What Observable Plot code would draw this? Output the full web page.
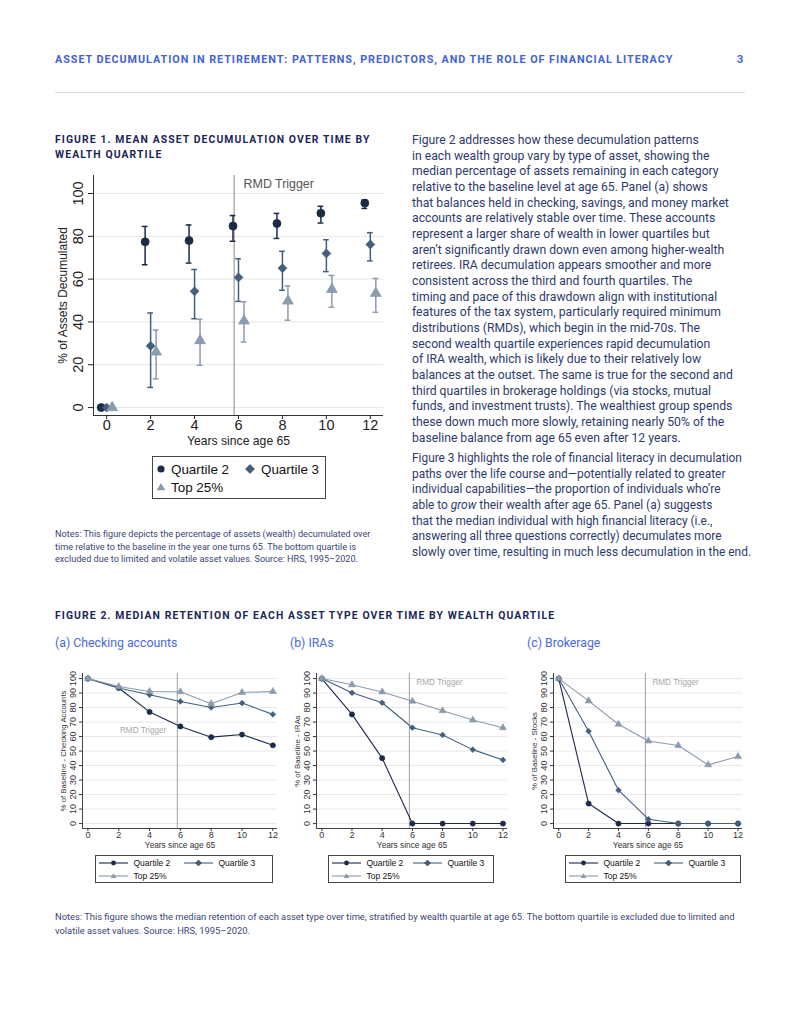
<!DOCTYPE html>
<html><head><meta charset="utf-8">
<script src="https://cdn.jsdelivr.net/npm/d3@7"></script>
<script src="https://cdn.jsdelivr.net/npm/@observablehq/plot@0.6"></script>
<style>
body{margin:0;background:#fff;}
#page{position:relative;width:800px;height:1035px;overflow:hidden;font-family:Roboto,"Noto Sans",sans-serif;background:#fff;}
.abs{position:absolute;white-space:nowrap;}
.hdr{font-size:10.8px;font-weight:700;color:#4262d6;letter-spacing:0.95px;line-height:12px;}
.ftitle{font-size:10.4px;font-weight:700;color:#1c2657;letter-spacing:1.1px;line-height:15px;}
.body{font-size:12.2px;color:#2f3a6c;line-height:15.67px;}
.note{font-size:9.1px;color:#3a4576;line-height:12.5px;}
.sub{font-size:12.3px;color:#4a6ad8;line-height:16px;}
.leg{border:1px solid #444;background:#fff;font-family:"Liberation Sans",Arial,sans-serif;color:#111;box-sizing:border-box;}
.plot{position:absolute;}
</style></head>
<body><div id="page">
<div class="abs hdr" style="left:55px;top:54px;">ASSET DECUMULATION IN RETIREMENT: PATTERNS, PREDICTORS, AND THE ROLE OF FINANCIAL LITERACY</div>
<div class="abs hdr" style="left:737px;top:54px;">3</div>
<div class="abs" style="left:55px;top:92px;width:690px;height:1px;background:#d9dde6;"></div>

<div class="abs ftitle" style="left:55px;top:131.5px;">FIGURE 1. MEAN ASSET DECUMULATION OVER TIME BY<br>WEALTH QUARTILE</div>

<div class="abs body" style="left:412px;top:133px;">Figure 2 addresses how these decumulation patterns<br>in each wealth group vary by type of asset, showing the<br>median percentage of assets remaining in each category<br>relative to the baseline level at age 65. Panel (a) shows<br>that balances held in checking, savings, and money market<br>accounts are relatively stable over time. These accounts<br>represent a larger share of wealth in lower quartiles but<br>aren’t significantly drawn down even among higher-wealth<br>retirees. IRA decumulation appears smoother and more<br>consistent across the third and fourth quartiles. The<br>timing and pace of this drawdown align with institutional<br>features of the tax system, particularly required minimum<br>distributions (RMDs), which begin in the mid-70s. The<br>second wealth quartile experiences rapid decumulation<br>of IRA wealth, which is likely due to their relatively low<br>balances at the outset. The same is true for the second and<br>third quartiles in brokerage holdings (via stocks, mutual<br>funds, and investment trusts). The wealthiest group spends<br>these down much more slowly, retaining nearly 50% of the<br>baseline balance from age 65 even after 12 years.</div>
<div class="abs body" style="left:412px;top:451px;font-size:11.9px;">Figure 3 highlights the role of financial literacy in decumulation<br>paths over the life course and—potentially related to greater<br>individual capabilities—the proportion of individuals who’re<br>able to <i>grow</i> their wealth after age 65. Panel (a) suggests<br>that the median individual with high financial literacy (i.e.,<br>answering all three questions correctly) decumulates more<br>slowly over time, resulting in much less decumulation in the end.</div>

<div class="abs note" style="left:55px;top:528px;">Notes: This figure depicts the percentage of assets (wealth) decumulated over<br>time relative to the baseline in the year one turns 65. The bottom quartile is<br>excluded due to limited and volatile asset values. Source: HRS, 1995–2020.</div>

<div class="abs ftitle" style="left:55px;top:607.5px;">FIGURE 2. MEDIAN RETENTION OF EACH ASSET TYPE OVER TIME BY WEALTH QUARTILE</div>
<div class="abs sub" style="left:55px;top:635px;">(a) Checking accounts</div>
<div class="abs sub" style="left:290px;top:635px;">(b) IRAs</div>
<div class="abs sub" style="left:527px;top:635px;">(c) Brokerage</div>

<div class="abs note" style="left:55px;top:910px;line-height:13.5px;font-size:9.35px;">Notes: This figure shows the median retention of each asset type over time, stratified by wealth quartile at age 65. The bottom quartile is excluded due to limited and<br>volatile asset values. Source: HRS, 1995–2020.</div>
</div>
<script>
// ---------- data ----------
const years = [0, 2, 4, 6, 8, 10, 12];
const series = ["Quartile 2", "Quartile 3", "Top 25%"];
const rmdYear = [5.8];

// Figure 1: mean % of assets decumulated, with confidence intervals
const f1Q2   = [0, 77.4, 78.0, 84.8, 86.0, 90.8, 95.5];
const f1Q2lo = [0, 66.7, 67.5, 77.7, 79.0, 86.2, 93.0];
const f1Q2hi = [0, 84.6, 85.3, 89.7, 90.7, 94.0, 97.0];
const f1Q3   = [0, 28.8, 54.3, 60.8, 65.1, 72.0, 76.2];
const f1Q3lo = [0,  9.4, 41.5, 49.6, 54.8, 63.5, 68.5];
const f1Q3hi = [0, 44.2, 64.5, 69.5, 73.0, 78.4, 81.7];
const f1T    = [0, 26.0, 31.3, 40.5, 49.8, 55.2, 53.4];
const f1Tlo  = [0, 13.4, 19.8, 30.6, 40.8, 46.9, 44.5];
const f1Thi  = [0, 36.2, 41.2, 49.4, 56.8, 61.7, 60.3];
const f1Ticks = [0, 20, 40, 60, 80, 100];

// Figure 2: median % of baseline retained
const checkQ2 = [100, 93.5, 77.0, 67.0, 59.6, 61.4, 54.0];
const checkQ3 = [100, 93.5, 88.8, 84.2, 80.1, 83.1, 75.3];
const checkT  = [100, 94.5, 91.1, 90.9, 82.6, 90.4, 91.1];
const iraQ2   = [100, 75.3, 45.1, 0, 0, 0, 0];
const iraQ3   = [100, 90.2, 83.3, 66.1, 61.1, 51.0, 43.9];
const iraT    = [100, 95.7, 90.8, 84.4, 77.8, 71.4, 66.1];
const stkQ2   = [100, 13.8, 0, 0, 0, 0, 0];
const stkQ3   = [100, 63.7, 23.0, 3.0, 0, 0, 0];
const stkT    = [100, 84.6, 68.5, 57.0, 53.8, 40.5, 46.2];
const f2Ticks = [0, 10, 20, 30, 40, 50, 60, 70, 80, 90, 100];
const xTitle = ["Years since age 65"];
const rmdLabel = ["RMD Trigger"];

// ---------- styles ----------
const colors = ["#1b2b48", "#435f7e", "#8b9bad"];
const symbols = ["circle", "diamond2", "triangle"];
const offsets = {"Quartile 2": -0.25, "Quartile 3": 0, "Top 25%": 0.25};
const stata = "Liberation Sans, Arial, sans-serif";
const page = document.getElementById("page");

function place(el, left, top) {
  el.classList.add("plot");
  el.style.left = left + "px"; el.style.top = top + "px";
  page.appendChild(el);
}

// ---------- Figure 1 ----------
const f1Mean = [f1Q2, f1Q3, f1T], f1Lo = [f1Q2lo, f1Q3lo, f1Tlo], f1Hi = [f1Q2hi, f1Q3hi, f1Thi];
const f1 = [];
series.forEach((s, i) => years.forEach((yr, j) => f1.push({series: s, x: yr, y: f1Mean[i][j], lo: f1Lo[i][j], hi: f1Hi[i][j]})));
const ci = f1.filter(d => d.hi > d.lo);
const xo = d => d.x + offsets[d.series];
const f1x = [-0.6, 12.6], f1y = [-3.7, 108.4];

const fig1 = Plot.plot({
  width: 350, height: 290,
  marginLeft: 53, marginTop: 10, marginRight: 7, marginBottom: 40,
  x: {domain: f1x}, y: {domain: f1y},
  color: {domain: series, range: colors},
  symbol: {domain: series, range: symbols},
  style: {fontFamily: stata, fontSize: "15px", color: "#222", background: "transparent"},
  marks: [
    Plot.gridY(f1Ticks, {stroke: "#e6e6e6", strokeOpacity: 1}),
    Plot.ruleX(rmdYear, {stroke: "#8a8a8a", strokeWidth: 1}),
    Plot.text(rmdLabel, {x: rmdYear[0], frameAnchor: "top", dx: 9.5, dy: 4, textAnchor: "start", fontSize: 12.4, fill: "#555"}),
    Plot.ruleX(ci, {x: xo, y1: "lo", y2: "hi", stroke: "series", strokeWidth: 1.5}),
    Plot.ruleY(ci, {y: "lo", x1: d => xo(d) - 0.13, x2: d => xo(d) + 0.13, stroke: "series", strokeWidth: 1.5}),
    Plot.ruleY(ci, {y: "hi", x1: d => xo(d) - 0.13, x2: d => xo(d) + 0.13, stroke: "series", strokeWidth: 1.5}),
    Plot.dot(f1, {x: xo, y: "y", symbol: "series", fill: "series", stroke: "series", strokeWidth: 0.8, r: 4}),
    Plot.ruleX([f1x[0]], {stroke: "#333"}),
    Plot.ruleY([f1y[0]], {stroke: "#333"}),
    Plot.axisX({ticks: years, tickSize: 4, tickPadding: 0, label: null, fontSize: 14.5}),
    Plot.axisY({ticks: f1Ticks, tickSize: 5, tickFormat: () => "", label: null}),
    Plot.text(f1Ticks, {y: d => d, frameAnchor: "left", rotate: -90, dx: -15, textAnchor: "middle", fontSize: 14.5, fill: "#222"}),
    Plot.text(["% of Assets Decumulated"], {frameAnchor: "left", rotate: -90, dx: -30, textAnchor: "middle", fontSize: 12, fill: "#222"}),
    Plot.text(xTitle, {frameAnchor: "bottom", dy: 29, textAnchor: "middle", fontSize: 12.2, fill: "#222"})
  ]
});
place(fig1, 40, 165);

// ---------- legend helpers ----------
function symSvg(k, cx, cy, s, color) {
  if (k === 0) return `<circle cx="${cx}" cy="${cy}" r="${s}" fill="${color}"/>`;
  if (k === 1) { const d = s * 1.25; return `<polygon points="${cx},${cy - d} ${cx + d},${cy} ${cx},${cy + d} ${cx - d},${cy}" fill="${color}" stroke="${colors[0]}" stroke-width="0.5"/>`; }
  const h = s * 1.1; return `<polygon points="${cx},${cy - h} ${cx + h * 1.1},${cy + h * 0.8} ${cx - h * 1.1},${cy + h * 0.8}" fill="${color}"/>`;
}

// Figure 1 legend
(function () {
  const box = document.createElement("div");
  box.className = "abs leg";
  box.style.cssText += "left:152px;top:456px;width:174px;height:43px;font-size:13.4px;";
  const items = [[8, 12, 18], [97, 12, 108], [8, 30, 18]];
  let html = `<svg width="172" height="41" style="position:absolute;left:0;top:0">`;
  items.forEach(([sx, y, tx], k) => {
    html += symSvg(k, sx, y, 3.6, colors[k]);
    html += `<text x="${tx}" y="${y}" dy="0.35em" font-size="13.4" font-family="${stata}" fill="#111">${series[k]}</text>`;
  });
  html += `</svg>`;
  box.innerHTML = html;
  page.appendChild(box);
})();

// ---------- Figure 2 panels ----------
const f2x = [-0.35, 12.3], f2y = [-3.4, 103.5];
function panel(vals, ytitle, rmdY, rmdAnchor, cfg) {
  const data = [];
  series.forEach((s, i) => years.forEach((yr, j) => data.push({series: s, x: yr, y: vals[i][j]})));
  const p = Plot.plot({
    width: cfg.w, height: 190,
    marginLeft: cfg.ml, marginTop: 8, marginRight: cfg.mr, marginBottom: 27,
    x: {domain: f2x}, y: {domain: f2y},
    color: {domain: series, range: colors},
    symbol: {domain: series, range: symbols},
    style: {fontFamily: stata, fontSize: "9px", color: "#333", background: "transparent"},
    marks: [
      Plot.gridY(f2Ticks, {stroke: "#e8e8e8", strokeOpacity: 1}),
      Plot.ruleX(rmdYear, {stroke: "#a0a0a0", strokeWidth: 1}),
      Plot.text(rmdLabel, {x: rmdYear[0], y: rmdY, dx: rmdAnchor === "end" ? -11 : 7, textAnchor: rmdAnchor, fontSize: 8.2, fill: "#a8a8a8"}),
      Plot.line(data, {x: "x", y: "y", z: "series", stroke: "series", strokeWidth: 1.1}),
      Plot.dot(data, {x: "x", y: "y", symbol: "series", fill: "series", stroke: "series", strokeWidth: 0.6, r: 2.6}),
      Plot.ruleX([f2x[0]], {stroke: "#444"}),
      Plot.ruleY([f2y[0]], {stroke: "#444"}),
      Plot.axisX({ticks: years, tickSize: 3, tickPadding: 0, label: null, fontSize: 9}),
      Plot.axisY({ticks: f2Ticks, tickSize: 3, tickFormat: () => "", label: null}),
      Plot.text(f2Ticks, {y: d => d, frameAnchor: "left", rotate: -90, dx: -9.5, textAnchor: "middle", fontSize: 9, fill: "#333"}),
      Plot.text([ytitle], {frameAnchor: "left", rotate: -90, dx: cfg.tdx, textAnchor: "middle", fontSize: 7.8, fill: "#333"}),
      Plot.text(xTitle, {frameAnchor: "bottom", dy: 19.5, textAnchor: "middle", fontSize: 8.3, fill: "#333"})
    ]
  });
  place(p, cfg.left, 665);
  // legend
  const box = document.createElement("div");
  box.className = "abs leg";
  box.style.cssText += `left:${cfg.lx}px;top:855px;width:${cfg.lw}px;height:28px;font-size:8.5px;`;
  const rows = [[3, 7, 37.5], [cfg.q3, 7, cfg.q3 + 34.5], [3, 20, 37.5]];
  let html = `<svg width="${cfg.lw - 2}" height="26" style="position:absolute;left:0;top:0">`;
  rows.forEach(([x0, y, tx], k) => {
    html += `<line x1="${x0}" x2="${x0 + 29}" y1="${y}" y2="${y}" stroke="${colors[k]}" stroke-width="1.1"/>`;
    html += symSvg(k, x0 + 14.5, y, 2.4, colors[k]);
    html += `<text x="${tx}" y="${y}" dy="0.35em" font-size="8.5" font-family="${stata}" fill="#111">${series[k]}</text>`;
  });
  html += `</svg>`;
  box.innerHTML = html;
  page.appendChild(box);
}

panel([checkQ2, checkQ3, checkT], "% of Baseline - Checking Accounts", 64.6, "end",
  {left: 50, w: 232, ml: 32, mr: 5, tdx: -19, lx: 95, lw: 178, q3: 88});
panel([iraQ2, iraQ3, iraT], "% of Baseline - IRAs", 97.5, "start",
  {left: 285, w: 232, ml: 31, mr: 10, tdx: -19, lx: 328, lw: 166, q3: 84});
panel([stkQ2, stkQ3, stkT], "% of Baseline - Stocks", 97.5, "start",
  {left: 520, w: 232, ml: 33, mr: 10, tdx: -19.5, lx: 565, lw: 176, q3: 88});
</script>
</body></html>
